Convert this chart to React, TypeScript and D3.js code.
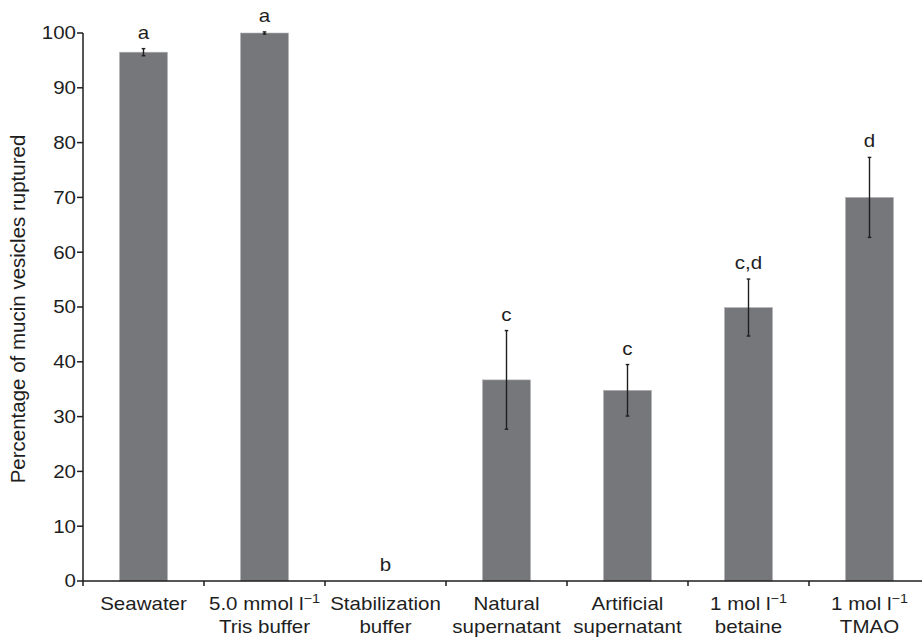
import React from "react";
import * as d3 from "d3";

const categories = ["Seawater", "Tris", "Stabilization", "Natural", "Artificial", "Betaine", "TMAO"];
const labelLine1 = ["Seawater", "5.0 mmol l^−1", "Stabilization", "Natural", "Artificial", "1 mol l^−1", "1 mol l^−1"];
const labelLine2 = ["", "Tris buffer", "buffer", "supernatant", "supernatant", "betaine", "TMAO"];
const values = [96.5, 100, 0, 36.7, 34.8, 49.9, 70.0];
const errors = [0.65, 0.2, 0, 9.0, 4.7, 5.2, 7.3];
const letters = ["a", "a", "b", "c", "c", "c,d", "d"];
const yTicks = [0, 10, 20, 30, 40, 50, 60, 70, 80, 90, 100];
const yTitle = "Percentage of mucin vesicles ruptured";

const W = 922;
const H = 637;
const left = 83;
const top = 33;
const bottom = 581;
const step = 121;
const padInner = 0.603;

const FONT = "'Liberation Sans', Arial, Helvetica, sans-serif";
const INK = "#1e1e1e";
const FS = 18;
const SX = 1.14;

function renderLabel(s: string, fs: number) {
  const parts = s.split("^");
  if (parts.length === 1) return parts[0];
  return (
    <>
      {parts[0]}
      <tspan fontSize={fs * 0.7} dy={-7}>{parts[1]}</tspan>
    </>
  );
}

function SText(props: { x: number; y: number; anchor: string; children: React.ReactNode; dy?: string }) {
  return (
    <text
      transform={`translate(${props.x},${props.y}) scale(${SX},1)`}
      textAnchor={props.anchor}
      dy={props.dy}
      fontSize={FS}
      fill={INK}
    >
      {props.children}
    </text>
  );
}

export default function App() {
  const x = d3
    .scaleBand<string>()
    .domain(categories)
    .range([left, left + step * categories.length])
    .paddingInner(padInner)
    .paddingOuter(padInner / 2);
  const y = d3.scaleLinear().domain([0, 100]).range([bottom, top]);
  const bw = x.bandwidth();
  const st = x.step();
  const boundaries = d3.range(categories.length + 1).map((i) => left + i * st);

  return (
    <svg width={W} height={H} style={{ position: "absolute", left: 0, top: 0, background: "#fff" }} fontFamily={FONT}>
      {categories.map((c, i) => (
        <rect
          key={c}
          x={x(c)!}
          y={y(values[i])}
          width={bw}
          height={y(0) - y(values[i])}
          fill="#76777b"
          stroke="#b5b5b8"
          strokeWidth={0.6}
        />
      ))}
      {categories.map((c, i) => {
        if (errors[i] <= 0) return null;
        const cx = x(c)! + bw / 2;
        const y1 = y(values[i] + errors[i]);
        const y2 = y(values[i] - errors[i]);
        return (
          <g key={"e" + c} stroke={INK} strokeWidth={1.4}>
            <line x1={cx} x2={cx} y1={y1} y2={y2} />
            <line x1={cx - 1.8} x2={cx + 1.8} y1={y1} y2={y1} />
            <line x1={cx - 1.8} x2={cx + 1.8} y1={y2} y2={y2} />
          </g>
        );
      })}
      {categories.map((c, i) => (
        <SText key={"l" + c} x={x(c)! + bw / 2} y={y(values[i] + errors[i]) - 10} anchor="middle">
          {letters[i]}
        </SText>
      ))}
      <line x1={left} x2={left} y1={y(100)} y2={y(0)} stroke={INK} strokeWidth={1.5} />
      {yTicks.map((t) => (
        <g key={"t" + t}>
          <line x1={left - 6} x2={left} y1={y(t)} y2={y(t)} stroke={INK} strokeWidth={1.5} />
          <SText x={left - 7} y={y(t)} anchor="end" dy="0.36em">
            {t}
          </SText>
        </g>
      ))}
      <line x1={left} x2={W} y1={bottom} y2={bottom} stroke={INK} strokeWidth={1.5} />
      {boundaries.map((b, i) => (
        <line key={"b" + i} x1={b} x2={b} y1={bottom} y2={bottom + 5} stroke={INK} strokeWidth={1.5} />
      ))}
      {categories.map((c, i) => (
        <g key={"x" + c}>
          <SText x={x(c)! + bw / 2} y={bottom + 29} anchor="middle">
            {renderLabel(labelLine1[i], FS)}
          </SText>
          {labelLine2[i] ? (
            <SText x={x(c)! + bw / 2} y={bottom + 52} anchor="middle">
              {labelLine2[i]}
            </SText>
          ) : null}
        </g>
      ))}
      <text
        transform={`translate(18, ${(top + bottom) / 2 + 2}) rotate(-90)`}
        textAnchor="middle"
        dy="0.35em"
        fontSize={20.5}
        fill={INK}
      >
        {yTitle}
      </text>
    </svg>
  );
}
